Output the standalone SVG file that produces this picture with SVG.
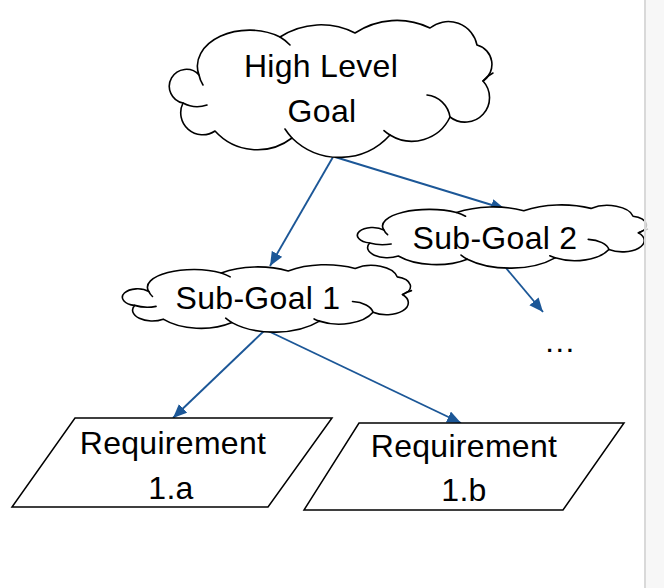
<svg xmlns="http://www.w3.org/2000/svg" xmlns:xlink="http://www.w3.org/1999/xlink" width="664" height="588" viewBox="0 0 664 588">
<style>
.outline{fill:#fff;stroke:#000;stroke-width:1.6;vector-effect:non-scaling-stroke;stroke-linejoin:round}
.inner{fill:none;stroke:#000;stroke-width:1.6;vector-effect:non-scaling-stroke;stroke-linecap:round}
.para{fill:#fff;stroke:#000;stroke-width:1.5}
.lbl{font-family:"Liberation Sans",Arial,sans-serif;font-size:32px;letter-spacing:0.3px;fill:#000;text-anchor:middle}
.conn{stroke:#1c5797;stroke-width:1.9;fill:none;marker-end:url(#arrow)}
</style>
<defs>
<marker id="arrow" markerUnits="userSpaceOnUse" markerWidth="15" markerHeight="13" refX="14" refY="6" orient="auto">
<path d="M0,0 L14,6 L0,12 Z" fill="#1c5797"/>
</marker>
<g id="cloudShape">
<path class="outline" d="M29,50 A52,36 0 0 1 110,12 A75,75 0 0 1 185,8 A76,76 0 0 1 260,3 A29.3,29.3 0 0 1 307,20 A20,20 0 0 1 313,56 A24.5,24.5 0 0 1 280,92 A42,42 0 0 1 220,110 A68,68 0 0 1 122,113 A57,57 0 0 1 45,106 A22,22 0 0 1 13,78 A17,17 0 1 1 29,50 Z"/>
<path class="inner" d="M13,78 A30,30 0 0 0 37,80 M110,12 A52,36 0 0 1 120,20 M313,56 Q317,51 323,48 M257,70 A26,26 0 0 1 280,92 M220,110 A42,42 0 0 1 214,105.6 M122,113 A68,68 0 0 1 115,104 M29,50 A52,36 0 0 0 33,60"/>
</g>
</defs>

<g id="connectors">
<line class="conn" x1="333" y1="157" x2="270" y2="266"/>
<line class="conn" x1="335" y1="157" x2="505" y2="209"/>
<line class="conn" x1="506" y1="268" x2="543" y2="312"/>
<line class="conn" x1="265" y1="330" x2="173" y2="418"/>
<line class="conn" x1="266" y1="330" x2="461" y2="423"/>
</g>

<g id="high-level-goal">
<use xlink:href="#cloudShape" transform="translate(170,25)"/>
<text class="lbl" x="321" y="77">High Level</text>
<text class="lbl" x="322" y="122">Goal</text>
</g>

<g id="sub-goal-1">
<use xlink:href="#cloudShape" transform="translate(123,267) scale(0.893,0.492)"/>
<text class="lbl" x="258" y="309">Sub-Goal 1</text>
</g>

<g id="sub-goal-2">
<use xlink:href="#cloudShape" transform="translate(358,207) scale(0.896,0.462)"/>
<text class="lbl" x="495" y="249">Sub-Goal 2</text>
</g>

<g id="ellipsis">
<text class="lbl" x="560" y="352">…</text>
</g>

<g id="requirement-1a">
<polygon class="para" points="75,418 332,418 268,507 12,507"/>
<text class="lbl" x="173" y="454">Requirement</text>
<text class="lbl" x="171" y="499">1.a</text>
</g>

<g id="requirement-1b">
<polygon class="para" points="359,423 624,423 563,510 304,510"/>
<text class="lbl" x="464" y="457">Requirement</text>
<text class="lbl" x="464" y="501">1.b</text>
</g>

<g id="side-panel">
<rect x="645" y="0" width="19" height="588" fill="#f5f5f5" fill-opacity="0.8"/>
<line x1="645" y1="0" x2="645" y2="588" stroke="#d9d9d9" stroke-width="2"/>
</g>
</svg>
